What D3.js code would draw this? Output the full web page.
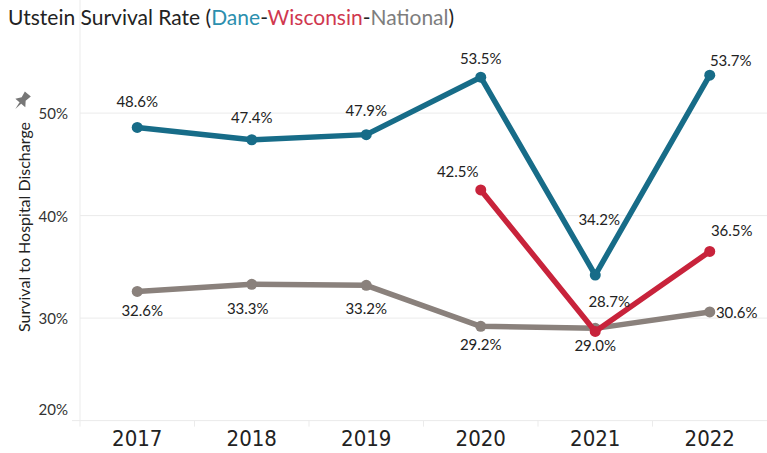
<!DOCTYPE html>
<html>
<head>
<meta charset="utf-8">
<script src="https://cdn.jsdelivr.net/npm/d3@7"></script>
<style>
  body { margin: 0; background: #fff; }
  text { font-family: "Lato", "Open Sans", sans-serif; }
</style>
</head>
<body>
<div id="container"></div>
<script>
/* DATA */
const years = ["2017", "2018", "2019", "2020", "2021", "2022"];
const dane = [48.6, 47.4, 47.9, 53.5, 34.2, 53.7];
const wisconsin = [null, null, null, 42.5, 28.7, 36.5];
const national = [32.6, 33.3, 33.2, 29.2, 29.0, 30.6];
const yTicks = [20, 30, 40, 50];

/* CONSTANTS */
const width = 767, height = 453;
const margin = { top: 40, right: 0, bottom: 32, left: 80 };

// label offsets (dx, dy from the point to the label baseline), by series
const labelOffsets = {
  Dane:      [[0, -20], [0, -17], [0, -19], [0, -13], [4, -50], [21, -9]],
  Wisconsin: [null, null, null, [-23, -13], [14, -24], [22, -15]],
  National:  [[5, 25], [-4, 30], [0, 29], [0, 24], [0, 23], [27, 6]]
};

const svg = d3.select("#container")
  .append("svg")
  .attr("width", width)
  .attr("height", height);

// title, three coloured words
const title = svg.append("text")
  .attr("x", 8).attr("y", 25)
  .style("font-size", "21px")
  .attr("fill", "#222");
title.append("tspan").text("Utstein Survival Rate (");
title.append("tspan").attr("fill", "#2c8fae").text("Dane");
title.append("tspan").text("-");
title.append("tspan").attr("fill", "#d0384f").text("Wisconsin");
title.append("tspan").text("-");
title.append("tspan").attr("fill", "#7d7d7d").text("National");
title.append("tspan").text(")");

const x = d3.scaleBand()
  .domain(years)
  .range([margin.left, width - margin.right]);

const y = d3.scaleLinear()
  .domain([20, 55])
  .range([420.6, 420.6 - 35 * 10.25]);

// gridlines
svg.selectAll(".grid")
  .data(yTicks.filter(d => d > 20))
  .join("line")
  .attr("class", "grid")
  .attr("x1", margin.left).attr("x2", width)
  .attr("y1", d => y(d)).attr("y2", d => y(d))
  .attr("stroke", "#ebebeb");

// left axis line + bottom axis line
svg.append("line")
  .attr("x1", margin.left).attr("x2", margin.left)
  .attr("y1", 0).attr("y2", y(20))
  .attr("stroke", "#ebebeb");
svg.append("line")
  .attr("x1", margin.left - 8).attr("x2", width)
  .attr("y1", y(20)).attr("y2", y(20))
  .attr("stroke", "#ebebeb");

// band separators on x axis
svg.selectAll(".sep")
  .data(years)
  .join("line")
  .attr("class", "sep")
  .attr("x1", d => x(d)).attr("x2", d => x(d))
  .attr("y1", y(20)).attr("y2", y(20) + 6)
  .attr("stroke", "#ebebeb");

// y tick labels (the bottom one sits inside the plot, like the original)
svg.selectAll(".ytick")
  .data(yTicks)
  .join("text")
  .attr("class", "ytick")
  .attr("x", 68)
  .attr("y", d => d === 20 ? y(d) - 6 : y(d) + 6)
  .attr("text-anchor", "end")
  .style("font-size", "15px")
  .attr("fill", "#333")
  .text(d => d + "%");

// x labels
svg.selectAll(".xtick")
  .data(years)
  .join("text")
  .attr("class", "xtick")
  .attr("x", d => x(d) + x.bandwidth() / 2)
  .attr("y", 446)
  .attr("text-anchor", "middle")
  .style("font-family", "'Liberation Sans Narrow', 'DejaVu Sans Condensed', sans-serif")
  .style("font-size", "22px")
  .attr("fill", "#222")
  .text(d => d);

// y axis title
svg.append("text")
  .attr("transform", "translate(30,227) rotate(-90)")
  .attr("text-anchor", "middle")
  .style("font-size", "16px")
  .attr("fill", "#222")
  .text("Survival to Hospital Discharge");

// pin icon
svg.append("path")
  .attr("transform", "translate(22,101) rotate(40) scale(1.3)")
  .attr("d", "M-3,-7 L3,-7 L2,-2 L5,2 L-5,2 L-2,-2 Z M-0.8,2 L0,8 L0.8,2 Z")
  .attr("fill", "#777");

const series = [
  { name: "National", values: national, color: "#8a817c" },
  { name: "Wisconsin", values: wisconsin, color: "#c8233b" },
  { name: "Dane", values: dane, color: "#176c88" }
];

const cx = i => x(years[i]) + x.bandwidth() / 2;

const line = d3.line()
  .defined(d => d != null)
  .x((d, i) => cx(i))
  .y(d => y(d));

series.forEach(s => {
  svg.append("path")
    .datum(s.values)
    .attr("fill", "none")
    .attr("stroke", s.color)
    .attr("stroke-width", 5.5)
    .attr("stroke-linejoin", "round")
    .attr("d", line);

  svg.selectAll(".pt-" + s.name)
    .data(s.values.map((v, i) => ({ v, i })).filter(d => d.v != null))
    .join("circle")
    .attr("cx", d => cx(d.i))
    .attr("cy", d => y(d.v))
    .attr("r", 5.5)
    .attr("fill", s.color);
});

// value labels
series.forEach(s => {
  svg.selectAll(".lbl-" + s.name)
    .data(s.values.map((v, i) => ({ v, i })).filter(d => d.v != null))
    .join("text")
    .attr("x", d => cx(d.i) + labelOffsets[s.name][d.i][0])
    .attr("y", d => y(d.v) + labelOffsets[s.name][d.i][1])
    .attr("text-anchor", "middle")
    .style("font-size", "15px")
    .attr("fill", "#222")
    .text(d => d.v.toFixed(1) + "%");
});
</script>
</body>
</html>
